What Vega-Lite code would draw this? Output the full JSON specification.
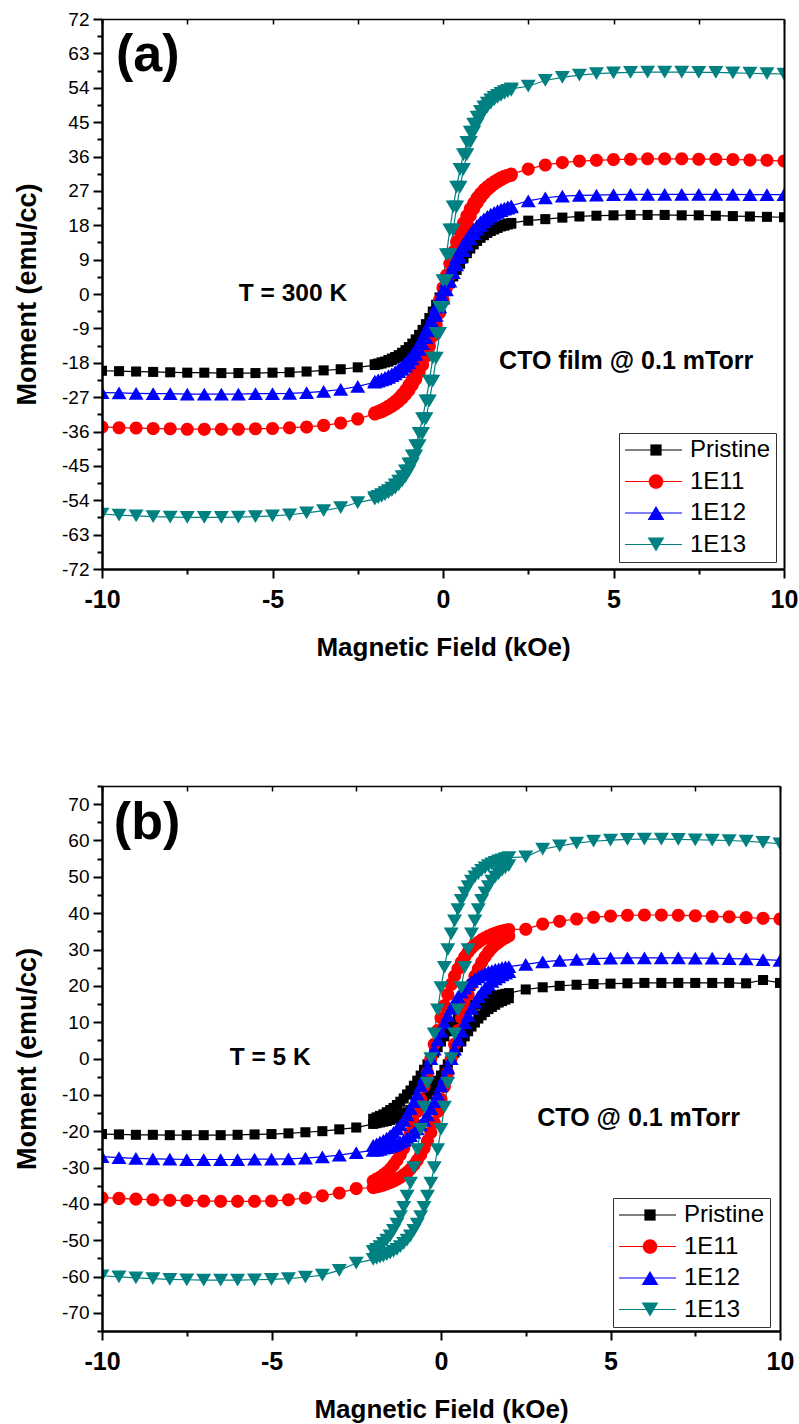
{
"$schema":"https://vega.github.io/schema/vega-lite/v6.json",
"background":"white",
"padding":{"left":13,"top":10,"right":5,"bottom":5},
"spacing":117,
"config":{"font":"Liberation Sans","view":{"stroke":null},"axis":{"grid":false,"domainColor":"#000000","tickColor":"#000000","labelColor":"#000000","titleColor":"#000000"},"legend":{"labelColor":"#000000","labelFont":"Liberation Sans"}},
"resolve":{"scale":{"color":"independent","stroke":"independent","shape":"independent"},"legend":{"color":"independent","stroke":"independent","shape":"independent"}},
"datasets":{
"a":[
{"s":"Pristine","b":"u","x":-10,"y":-20.1},{"s":"Pristine","b":"u","x":-9.5,"y":-20.2},{"s":"Pristine","b":"u","x":-9,"y":-20.3},{"s":"Pristine","b":"u","x":-8.5,"y":-20.4},{"s":"Pristine","b":"u","x":-8,"y":-20.5},{"s":"Pristine","b":"u","x":-7.5,"y":-20.6},{"s":"Pristine","b":"u","x":-7,"y":-20.6},{"s":"Pristine","b":"u","x":-6.5,"y":-20.7},{"s":"Pristine","b":"u","x":-6,"y":-20.7},{"s":"Pristine","b":"u","x":-5.5,"y":-20.7},{"s":"Pristine","b":"u","x":-5,"y":-20.6},{"s":"Pristine","b":"u","x":-4.5,"y":-20.5},{"s":"Pristine","b":"u","x":-4,"y":-20.3},{"s":"Pristine","b":"u","x":-3.5,"y":-20.0},{"s":"Pristine","b":"u","x":-3,"y":-19.7},{"s":"Pristine","b":"u","x":-2.5,"y":-19.2},
{"s":"Pristine","b":"u","x":-2,"y":-18.6},{"s":"Pristine","b":"u","x":-1.9,"y":-18.4},{"s":"Pristine","b":"u","x":-1.8,"y":-18.2},{"s":"Pristine","b":"u","x":-1.7,"y":-17.9},{"s":"Pristine","b":"u","x":-1.6,"y":-17.7},{"s":"Pristine","b":"u","x":-1.5,"y":-17.3},{"s":"Pristine","b":"u","x":-1.4,"y":-16.9},{"s":"Pristine","b":"u","x":-1.3,"y":-16.5},{"s":"Pristine","b":"u","x":-1.2,"y":-16.0},{"s":"Pristine","b":"u","x":-1.1,"y":-15.4},{"s":"Pristine","b":"u","x":-1,"y":-14.7},{"s":"Pristine","b":"u","x":-0.9,"y":-13.9},{"s":"Pristine","b":"u","x":-0.8,"y":-13.0},{"s":"Pristine","b":"u","x":-0.7,"y":-11.9},{"s":"Pristine","b":"u","x":-0.6,"y":-10.7},{"s":"Pristine","b":"u","x":-0.5,"y":-9.4},{"s":"Pristine","b":"u","x":-0.4,"y":-7.9},{"s":"Pristine","b":"u","x":-0.3,"y":-6.3},{"s":"Pristine","b":"u","x":-0.2,"y":-4.6},{"s":"Pristine","b":"u","x":-0.1,"y":-2.8},{"s":"Pristine","b":"u","x":0,"y":-0.9},{"s":"Pristine","b":"u","x":0.1,"y":0.9},{"s":"Pristine","b":"u","x":0.2,"y":2.8},{"s":"Pristine","b":"u","x":0.3,"y":4.6},{"s":"Pristine","b":"u","x":0.4,"y":6.3},{"s":"Pristine","b":"u","x":0.5,"y":7.9},{"s":"Pristine","b":"u","x":0.6,"y":9.4},{"s":"Pristine","b":"u","x":0.7,"y":10.7},{"s":"Pristine","b":"u","x":0.8,"y":11.9},{"s":"Pristine","b":"u","x":0.9,"y":13.0},{"s":"Pristine","b":"u","x":1,"y":13.9},{"s":"Pristine","b":"u","x":1.1,"y":14.7},{"s":"Pristine","b":"u","x":1.2,"y":15.4},{"s":"Pristine","b":"u","x":1.3,"y":16.0},{"s":"Pristine","b":"u","x":1.4,"y":16.5},{"s":"Pristine","b":"u","x":1.5,"y":16.9},{"s":"Pristine","b":"u","x":1.6,"y":17.3},{"s":"Pristine","b":"u","x":1.7,"y":17.7},{"s":"Pristine","b":"u","x":1.8,"y":17.9},{"s":"Pristine","b":"u","x":1.9,"y":18.2},{"s":"Pristine","b":"u","x":2,"y":18.4},
{"s":"Pristine","b":"d","x":-2,"y":-18.4},{"s":"Pristine","b":"d","x":-1.9,"y":-18.2},{"s":"Pristine","b":"d","x":-1.8,"y":-17.9},{"s":"Pristine","b":"d","x":-1.7,"y":-17.7},{"s":"Pristine","b":"d","x":-1.6,"y":-17.3},{"s":"Pristine","b":"d","x":-1.5,"y":-16.9},{"s":"Pristine","b":"d","x":-1.4,"y":-16.5},{"s":"Pristine","b":"d","x":-1.3,"y":-16.0},{"s":"Pristine","b":"d","x":-1.2,"y":-15.4},{"s":"Pristine","b":"d","x":-1.1,"y":-14.7},{"s":"Pristine","b":"d","x":-1,"y":-13.9},{"s":"Pristine","b":"d","x":-0.9,"y":-13.0},{"s":"Pristine","b":"d","x":-0.8,"y":-11.9},{"s":"Pristine","b":"d","x":-0.7,"y":-10.7},{"s":"Pristine","b":"d","x":-0.6,"y":-9.4},{"s":"Pristine","b":"d","x":-0.5,"y":-7.9},{"s":"Pristine","b":"d","x":-0.4,"y":-6.3},{"s":"Pristine","b":"d","x":-0.3,"y":-4.6},{"s":"Pristine","b":"d","x":-0.2,"y":-2.8},{"s":"Pristine","b":"d","x":-0.1,"y":-0.9},{"s":"Pristine","b":"d","x":0,"y":0.9},{"s":"Pristine","b":"d","x":0.1,"y":2.8},{"s":"Pristine","b":"d","x":0.2,"y":4.6},{"s":"Pristine","b":"d","x":0.3,"y":6.3},{"s":"Pristine","b":"d","x":0.4,"y":7.9},{"s":"Pristine","b":"d","x":0.5,"y":9.4},{"s":"Pristine","b":"d","x":0.6,"y":10.7},{"s":"Pristine","b":"d","x":0.7,"y":11.9},{"s":"Pristine","b":"d","x":0.8,"y":13.0},{"s":"Pristine","b":"d","x":0.9,"y":13.9},{"s":"Pristine","b":"d","x":1,"y":14.7},{"s":"Pristine","b":"d","x":1.1,"y":15.4},{"s":"Pristine","b":"d","x":1.2,"y":16.0},{"s":"Pristine","b":"d","x":1.3,"y":16.5},{"s":"Pristine","b":"d","x":1.4,"y":16.9},{"s":"Pristine","b":"d","x":1.5,"y":17.3},{"s":"Pristine","b":"d","x":1.6,"y":17.7},{"s":"Pristine","b":"d","x":1.7,"y":17.9},{"s":"Pristine","b":"d","x":1.8,"y":18.2},{"s":"Pristine","b":"d","x":1.9,"y":18.4},{"s":"Pristine","b":"d","x":2,"y":18.6},
{"s":"Pristine","b":"d","x":2.5,"y":19.2},{"s":"Pristine","b":"d","x":3,"y":19.6},{"s":"Pristine","b":"d","x":3.5,"y":20.0},{"s":"Pristine","b":"d","x":4,"y":20.3},{"s":"Pristine","b":"d","x":4.5,"y":20.5},{"s":"Pristine","b":"d","x":5,"y":20.6},{"s":"Pristine","b":"d","x":5.5,"y":20.7},{"s":"Pristine","b":"d","x":6,"y":20.7},{"s":"Pristine","b":"d","x":6.5,"y":20.7},{"s":"Pristine","b":"d","x":7,"y":20.6},{"s":"Pristine","b":"d","x":7.5,"y":20.6},{"s":"Pristine","b":"d","x":8,"y":20.5},{"s":"Pristine","b":"d","x":8.5,"y":20.4},{"s":"Pristine","b":"d","x":9,"y":20.3},{"s":"Pristine","b":"d","x":9.5,"y":20.2},{"s":"Pristine","b":"d","x":10,"y":20.1},
{"s":"1E11","b":"u","x":-10,"y":-34.8},{"s":"1E11","b":"u","x":-9.5,"y":-35.0},{"s":"1E11","b":"u","x":-9,"y":-35.1},{"s":"1E11","b":"u","x":-8.5,"y":-35.2},{"s":"1E11","b":"u","x":-8,"y":-35.3},{"s":"1E11","b":"u","x":-7.5,"y":-35.4},{"s":"1E11","b":"u","x":-7,"y":-35.4},{"s":"1E11","b":"u","x":-6.5,"y":-35.4},{"s":"1E11","b":"u","x":-6,"y":-35.4},{"s":"1E11","b":"u","x":-5.5,"y":-35.3},{"s":"1E11","b":"u","x":-5,"y":-35.2},{"s":"1E11","b":"u","x":-4.5,"y":-35.0},{"s":"1E11","b":"u","x":-4,"y":-34.8},{"s":"1E11","b":"u","x":-3.5,"y":-34.4},{"s":"1E11","b":"u","x":-3,"y":-33.8},{"s":"1E11","b":"u","x":-2.5,"y":-32.7},
{"s":"1E11","b":"u","x":-2,"y":-31.4},{"s":"1E11","b":"u","x":-1.9,"y":-31.1},{"s":"1E11","b":"u","x":-1.8,"y":-30.8},{"s":"1E11","b":"u","x":-1.7,"y":-30.4},{"s":"1E11","b":"u","x":-1.6,"y":-29.9},{"s":"1E11","b":"u","x":-1.5,"y":-29.4},{"s":"1E11","b":"u","x":-1.4,"y":-28.8},{"s":"1E11","b":"u","x":-1.3,"y":-28.1},{"s":"1E11","b":"u","x":-1.2,"y":-27.3},{"s":"1E11","b":"u","x":-1.1,"y":-26.3},{"s":"1E11","b":"u","x":-1,"y":-25.2},{"s":"1E11","b":"u","x":-0.9,"y":-23.8},{"s":"1E11","b":"u","x":-0.8,"y":-22.3},{"s":"1E11","b":"u","x":-0.7,"y":-20.5},{"s":"1E11","b":"u","x":-0.6,"y":-18.6},{"s":"1E11","b":"u","x":-0.5,"y":-16.3},{"s":"1E11","b":"u","x":-0.4,"y":-13.7},{"s":"1E11","b":"u","x":-0.3,"y":-11.0},{"s":"1E11","b":"u","x":-0.2,"y":-8.0},{"s":"1E11","b":"u","x":-0.1,"y":-4.9},{"s":"1E11","b":"u","x":0,"y":-1.6},{"s":"1E11","b":"u","x":0.1,"y":1.6},{"s":"1E11","b":"u","x":0.2,"y":4.9},{"s":"1E11","b":"u","x":0.3,"y":8.0},{"s":"1E11","b":"u","x":0.4,"y":11.0},{"s":"1E11","b":"u","x":0.5,"y":13.7},{"s":"1E11","b":"u","x":0.6,"y":16.3},{"s":"1E11","b":"u","x":0.7,"y":18.6},{"s":"1E11","b":"u","x":0.8,"y":20.5},{"s":"1E11","b":"u","x":0.9,"y":22.3},{"s":"1E11","b":"u","x":1,"y":23.8},{"s":"1E11","b":"u","x":1.1,"y":25.2},{"s":"1E11","b":"u","x":1.2,"y":26.3},{"s":"1E11","b":"u","x":1.3,"y":27.3},{"s":"1E11","b":"u","x":1.4,"y":28.1},{"s":"1E11","b":"u","x":1.5,"y":28.8},{"s":"1E11","b":"u","x":1.6,"y":29.4},{"s":"1E11","b":"u","x":1.7,"y":29.9},{"s":"1E11","b":"u","x":1.8,"y":30.4},{"s":"1E11","b":"u","x":1.9,"y":30.8},{"s":"1E11","b":"u","x":2,"y":31.1},
{"s":"1E11","b":"d","x":-2,"y":-31.1},{"s":"1E11","b":"d","x":-1.9,"y":-30.8},{"s":"1E11","b":"d","x":-1.8,"y":-30.4},{"s":"1E11","b":"d","x":-1.7,"y":-29.9},{"s":"1E11","b":"d","x":-1.6,"y":-29.4},{"s":"1E11","b":"d","x":-1.5,"y":-28.8},{"s":"1E11","b":"d","x":-1.4,"y":-28.1},{"s":"1E11","b":"d","x":-1.3,"y":-27.3},{"s":"1E11","b":"d","x":-1.2,"y":-26.3},{"s":"1E11","b":"d","x":-1.1,"y":-25.2},{"s":"1E11","b":"d","x":-1,"y":-23.8},{"s":"1E11","b":"d","x":-0.9,"y":-22.3},{"s":"1E11","b":"d","x":-0.8,"y":-20.5},{"s":"1E11","b":"d","x":-0.7,"y":-18.6},{"s":"1E11","b":"d","x":-0.6,"y":-16.3},{"s":"1E11","b":"d","x":-0.5,"y":-13.7},{"s":"1E11","b":"d","x":-0.4,"y":-11.0},{"s":"1E11","b":"d","x":-0.3,"y":-8.0},{"s":"1E11","b":"d","x":-0.2,"y":-4.9},{"s":"1E11","b":"d","x":-0.1,"y":-1.6},{"s":"1E11","b":"d","x":0,"y":1.6},{"s":"1E11","b":"d","x":0.1,"y":4.9},{"s":"1E11","b":"d","x":0.2,"y":8.0},{"s":"1E11","b":"d","x":0.3,"y":11.0},{"s":"1E11","b":"d","x":0.4,"y":13.7},{"s":"1E11","b":"d","x":0.5,"y":16.3},{"s":"1E11","b":"d","x":0.6,"y":18.6},{"s":"1E11","b":"d","x":0.7,"y":20.5},{"s":"1E11","b":"d","x":0.8,"y":22.3},{"s":"1E11","b":"d","x":0.9,"y":23.8},{"s":"1E11","b":"d","x":1,"y":25.2},{"s":"1E11","b":"d","x":1.1,"y":26.3},{"s":"1E11","b":"d","x":1.2,"y":27.3},{"s":"1E11","b":"d","x":1.3,"y":28.1},{"s":"1E11","b":"d","x":1.4,"y":28.8},{"s":"1E11","b":"d","x":1.5,"y":29.4},{"s":"1E11","b":"d","x":1.6,"y":29.9},{"s":"1E11","b":"d","x":1.7,"y":30.4},{"s":"1E11","b":"d","x":1.8,"y":30.8},{"s":"1E11","b":"d","x":1.9,"y":31.1},{"s":"1E11","b":"d","x":2,"y":31.4},
{"s":"1E11","b":"d","x":2.5,"y":32.7},{"s":"1E11","b":"d","x":3,"y":33.8},{"s":"1E11","b":"d","x":3.5,"y":34.4},{"s":"1E11","b":"d","x":4,"y":34.8},{"s":"1E11","b":"d","x":4.5,"y":35.0},{"s":"1E11","b":"d","x":5,"y":35.2},{"s":"1E11","b":"d","x":5.5,"y":35.3},{"s":"1E11","b":"d","x":6,"y":35.4},{"s":"1E11","b":"d","x":6.5,"y":35.4},{"s":"1E11","b":"d","x":7,"y":35.4},{"s":"1E11","b":"d","x":7.5,"y":35.3},{"s":"1E11","b":"d","x":8,"y":35.3},{"s":"1E11","b":"d","x":8.5,"y":35.2},{"s":"1E11","b":"d","x":9,"y":35.1},{"s":"1E11","b":"d","x":9.5,"y":35.0},{"s":"1E11","b":"d","x":10,"y":34.8},
{"s":"1E12","b":"u","x":-10,"y":-25.8},{"s":"1E12","b":"u","x":-9.5,"y":-25.9},{"s":"1E12","b":"u","x":-9,"y":-26.0},{"s":"1E12","b":"u","x":-8.5,"y":-26.1},{"s":"1E12","b":"u","x":-8,"y":-26.1},{"s":"1E12","b":"u","x":-7.5,"y":-26.2},{"s":"1E12","b":"u","x":-7,"y":-26.2},{"s":"1E12","b":"u","x":-6.5,"y":-26.2},{"s":"1E12","b":"u","x":-6,"y":-26.2},{"s":"1E12","b":"u","x":-5.5,"y":-26.1},{"s":"1E12","b":"u","x":-5,"y":-26.1},{"s":"1E12","b":"u","x":-4.5,"y":-26.0},{"s":"1E12","b":"u","x":-4,"y":-25.8},{"s":"1E12","b":"u","x":-3.5,"y":-25.5},{"s":"1E12","b":"u","x":-3,"y":-25.0},{"s":"1E12","b":"u","x":-2.5,"y":-24.2},
{"s":"1E12","b":"u","x":-2,"y":-23.1},{"s":"1E12","b":"u","x":-1.9,"y":-22.8},{"s":"1E12","b":"u","x":-1.8,"y":-22.5},{"s":"1E12","b":"u","x":-1.7,"y":-22.2},{"s":"1E12","b":"u","x":-1.6,"y":-21.8},{"s":"1E12","b":"u","x":-1.5,"y":-21.4},{"s":"1E12","b":"u","x":-1.4,"y":-20.9},{"s":"1E12","b":"u","x":-1.3,"y":-20.3},{"s":"1E12","b":"u","x":-1.2,"y":-19.7},{"s":"1E12","b":"u","x":-1.1,"y":-18.9},{"s":"1E12","b":"u","x":-1,"y":-18.0},{"s":"1E12","b":"u","x":-0.9,"y":-17.0},{"s":"1E12","b":"u","x":-0.8,"y":-15.8},{"s":"1E12","b":"u","x":-0.7,"y":-14.5},{"s":"1E12","b":"u","x":-0.6,"y":-13.0},{"s":"1E12","b":"u","x":-0.5,"y":-11.4},{"s":"1E12","b":"u","x":-0.4,"y":-9.6},{"s":"1E12","b":"u","x":-0.3,"y":-7.6},{"s":"1E12","b":"u","x":-0.2,"y":-5.6},{"s":"1E12","b":"u","x":-0.1,"y":-3.4},{"s":"1E12","b":"u","x":0,"y":-1.1},{"s":"1E12","b":"u","x":0.1,"y":1.1},{"s":"1E12","b":"u","x":0.2,"y":3.4},{"s":"1E12","b":"u","x":0.3,"y":5.6},{"s":"1E12","b":"u","x":0.4,"y":7.6},{"s":"1E12","b":"u","x":0.5,"y":9.6},{"s":"1E12","b":"u","x":0.6,"y":11.4},{"s":"1E12","b":"u","x":0.7,"y":13.0},{"s":"1E12","b":"u","x":0.8,"y":14.5},{"s":"1E12","b":"u","x":0.9,"y":15.8},{"s":"1E12","b":"u","x":1,"y":17.0},{"s":"1E12","b":"u","x":1.1,"y":18.0},{"s":"1E12","b":"u","x":1.2,"y":18.9},{"s":"1E12","b":"u","x":1.3,"y":19.7},{"s":"1E12","b":"u","x":1.4,"y":20.3},{"s":"1E12","b":"u","x":1.5,"y":20.9},{"s":"1E12","b":"u","x":1.6,"y":21.4},{"s":"1E12","b":"u","x":1.7,"y":21.8},{"s":"1E12","b":"u","x":1.8,"y":22.2},{"s":"1E12","b":"u","x":1.9,"y":22.5},{"s":"1E12","b":"u","x":2,"y":22.8},
{"s":"1E12","b":"d","x":-2,"y":-22.8},{"s":"1E12","b":"d","x":-1.9,"y":-22.5},{"s":"1E12","b":"d","x":-1.8,"y":-22.2},{"s":"1E12","b":"d","x":-1.7,"y":-21.8},{"s":"1E12","b":"d","x":-1.6,"y":-21.4},{"s":"1E12","b":"d","x":-1.5,"y":-20.9},{"s":"1E12","b":"d","x":-1.4,"y":-20.3},{"s":"1E12","b":"d","x":-1.3,"y":-19.7},{"s":"1E12","b":"d","x":-1.2,"y":-18.9},{"s":"1E12","b":"d","x":-1.1,"y":-18.0},{"s":"1E12","b":"d","x":-1,"y":-17.0},{"s":"1E12","b":"d","x":-0.9,"y":-15.8},{"s":"1E12","b":"d","x":-0.8,"y":-14.5},{"s":"1E12","b":"d","x":-0.7,"y":-13.0},{"s":"1E12","b":"d","x":-0.6,"y":-11.4},{"s":"1E12","b":"d","x":-0.5,"y":-9.6},{"s":"1E12","b":"d","x":-0.4,"y":-7.6},{"s":"1E12","b":"d","x":-0.3,"y":-5.6},{"s":"1E12","b":"d","x":-0.2,"y":-3.4},{"s":"1E12","b":"d","x":-0.1,"y":-1.1},{"s":"1E12","b":"d","x":0,"y":1.1},{"s":"1E12","b":"d","x":0.1,"y":3.4},{"s":"1E12","b":"d","x":0.2,"y":5.6},{"s":"1E12","b":"d","x":0.3,"y":7.6},{"s":"1E12","b":"d","x":0.4,"y":9.6},{"s":"1E12","b":"d","x":0.5,"y":11.4},{"s":"1E12","b":"d","x":0.6,"y":13.0},{"s":"1E12","b":"d","x":0.7,"y":14.5},{"s":"1E12","b":"d","x":0.8,"y":15.8},{"s":"1E12","b":"d","x":0.9,"y":17.0},{"s":"1E12","b":"d","x":1,"y":18.0},{"s":"1E12","b":"d","x":1.1,"y":18.9},{"s":"1E12","b":"d","x":1.2,"y":19.7},{"s":"1E12","b":"d","x":1.3,"y":20.3},{"s":"1E12","b":"d","x":1.4,"y":20.9},{"s":"1E12","b":"d","x":1.5,"y":21.4},{"s":"1E12","b":"d","x":1.6,"y":21.8},{"s":"1E12","b":"d","x":1.7,"y":22.2},{"s":"1E12","b":"d","x":1.8,"y":22.5},{"s":"1E12","b":"d","x":1.9,"y":22.8},{"s":"1E12","b":"d","x":2,"y":23.1},
{"s":"1E12","b":"d","x":2.5,"y":24.4},{"s":"1E12","b":"d","x":3,"y":25.2},{"s":"1E12","b":"d","x":3.5,"y":25.6},{"s":"1E12","b":"d","x":4,"y":25.8},{"s":"1E12","b":"d","x":4.5,"y":25.9},{"s":"1E12","b":"d","x":5,"y":26.0},{"s":"1E12","b":"d","x":5.5,"y":26.1},{"s":"1E12","b":"d","x":6,"y":26.1},{"s":"1E12","b":"d","x":6.5,"y":26.1},{"s":"1E12","b":"d","x":7,"y":26.1},{"s":"1E12","b":"d","x":7.5,"y":26.1},{"s":"1E12","b":"d","x":8,"y":26.1},{"s":"1E12","b":"d","x":8.5,"y":26.1},{"s":"1E12","b":"d","x":9,"y":26.0},{"s":"1E12","b":"d","x":9.5,"y":26.0},{"s":"1E12","b":"d","x":10,"y":26.0},
{"s":"1E13","b":"u","x":-10,"y":-57.6},{"s":"1E13","b":"u","x":-9.5,"y":-57.9},{"s":"1E13","b":"u","x":-9,"y":-58.1},{"s":"1E13","b":"u","x":-8.5,"y":-58.3},{"s":"1E13","b":"u","x":-8,"y":-58.4},{"s":"1E13","b":"u","x":-7.5,"y":-58.5},{"s":"1E13","b":"u","x":-7,"y":-58.5},{"s":"1E13","b":"u","x":-6.5,"y":-58.5},{"s":"1E13","b":"u","x":-6,"y":-58.4},{"s":"1E13","b":"u","x":-5.5,"y":-58.3},{"s":"1E13","b":"u","x":-5,"y":-58.1},{"s":"1E13","b":"u","x":-4.5,"y":-57.8},{"s":"1E13","b":"u","x":-4,"y":-57.3},{"s":"1E13","b":"u","x":-3.5,"y":-56.7},{"s":"1E13","b":"u","x":-3,"y":-55.9},{"s":"1E13","b":"u","x":-2.5,"y":-54.6},
{"s":"1E13","b":"u","x":-2,"y":-53.7},{"s":"1E13","b":"u","x":-1.9,"y":-53.3},{"s":"1E13","b":"u","x":-1.8,"y":-53.0},{"s":"1E13","b":"u","x":-1.7,"y":-52.5},{"s":"1E13","b":"u","x":-1.6,"y":-52.0},{"s":"1E13","b":"u","x":-1.5,"y":-51.5},{"s":"1E13","b":"u","x":-1.4,"y":-50.8},{"s":"1E13","b":"u","x":-1.3,"y":-50.0},{"s":"1E13","b":"u","x":-1.2,"y":-49.0},{"s":"1E13","b":"u","x":-1.1,"y":-47.8},{"s":"1E13","b":"u","x":-1,"y":-46.3},{"s":"1E13","b":"u","x":-0.9,"y":-44.5},{"s":"1E13","b":"u","x":-0.8,"y":-42.4},{"s":"1E13","b":"u","x":-0.7,"y":-39.7},{"s":"1E13","b":"u","x":-0.6,"y":-36.5},{"s":"1E13","b":"u","x":-0.5,"y":-32.6},{"s":"1E13","b":"u","x":-0.4,"y":-28.0},{"s":"1E13","b":"u","x":-0.3,"y":-22.8},{"s":"1E13","b":"u","x":-0.2,"y":-16.8},{"s":"1E13","b":"u","x":-0.1,"y":-10.3},{"s":"1E13","b":"u","x":0,"y":-3.5},{"s":"1E13","b":"u","x":0.1,"y":3.5},{"s":"1E13","b":"u","x":0.2,"y":10.3},{"s":"1E13","b":"u","x":0.3,"y":16.8},{"s":"1E13","b":"u","x":0.4,"y":22.8},{"s":"1E13","b":"u","x":0.5,"y":28.0},{"s":"1E13","b":"u","x":0.6,"y":32.6},{"s":"1E13","b":"u","x":0.7,"y":36.5},{"s":"1E13","b":"u","x":0.8,"y":39.7},{"s":"1E13","b":"u","x":0.9,"y":42.4},{"s":"1E13","b":"u","x":1,"y":44.5},{"s":"1E13","b":"u","x":1.1,"y":46.3},{"s":"1E13","b":"u","x":1.2,"y":47.8},{"s":"1E13","b":"u","x":1.3,"y":49.0},{"s":"1E13","b":"u","x":1.4,"y":50.0},{"s":"1E13","b":"u","x":1.5,"y":50.8},{"s":"1E13","b":"u","x":1.6,"y":51.5},{"s":"1E13","b":"u","x":1.7,"y":52.0},{"s":"1E13","b":"u","x":1.8,"y":52.5},{"s":"1E13","b":"u","x":1.9,"y":53.0},{"s":"1E13","b":"u","x":2,"y":53.3},
{"s":"1E13","b":"d","x":-2,"y":-53.3},{"s":"1E13","b":"d","x":-1.9,"y":-53.0},{"s":"1E13","b":"d","x":-1.8,"y":-52.5},{"s":"1E13","b":"d","x":-1.7,"y":-52.0},{"s":"1E13","b":"d","x":-1.6,"y":-51.5},{"s":"1E13","b":"d","x":-1.5,"y":-50.8},{"s":"1E13","b":"d","x":-1.4,"y":-50.0},{"s":"1E13","b":"d","x":-1.3,"y":-49.0},{"s":"1E13","b":"d","x":-1.2,"y":-47.8},{"s":"1E13","b":"d","x":-1.1,"y":-46.3},{"s":"1E13","b":"d","x":-1,"y":-44.5},{"s":"1E13","b":"d","x":-0.9,"y":-42.4},{"s":"1E13","b":"d","x":-0.8,"y":-39.7},{"s":"1E13","b":"d","x":-0.7,"y":-36.5},{"s":"1E13","b":"d","x":-0.6,"y":-32.6},{"s":"1E13","b":"d","x":-0.5,"y":-28.0},{"s":"1E13","b":"d","x":-0.4,"y":-22.8},{"s":"1E13","b":"d","x":-0.3,"y":-16.8},{"s":"1E13","b":"d","x":-0.2,"y":-10.3},{"s":"1E13","b":"d","x":-0.1,"y":-3.5},{"s":"1E13","b":"d","x":0,"y":3.5},{"s":"1E13","b":"d","x":0.1,"y":10.3},{"s":"1E13","b":"d","x":0.2,"y":16.8},{"s":"1E13","b":"d","x":0.3,"y":22.8},{"s":"1E13","b":"d","x":0.4,"y":28.0},{"s":"1E13","b":"d","x":0.5,"y":32.6},{"s":"1E13","b":"d","x":0.6,"y":36.5},{"s":"1E13","b":"d","x":0.7,"y":39.7},{"s":"1E13","b":"d","x":0.8,"y":42.4},{"s":"1E13","b":"d","x":0.9,"y":44.5},{"s":"1E13","b":"d","x":1,"y":46.3},{"s":"1E13","b":"d","x":1.1,"y":47.8},{"s":"1E13","b":"d","x":1.2,"y":49.0},{"s":"1E13","b":"d","x":1.3,"y":50.0},{"s":"1E13","b":"d","x":1.4,"y":50.8},{"s":"1E13","b":"d","x":1.5,"y":51.5},{"s":"1E13","b":"d","x":1.6,"y":52.0},{"s":"1E13","b":"d","x":1.7,"y":52.5},{"s":"1E13","b":"d","x":1.8,"y":53.0},{"s":"1E13","b":"d","x":1.9,"y":53.3},{"s":"1E13","b":"d","x":2,"y":53.7},
{"s":"1E13","b":"d","x":2.5,"y":54.4},{"s":"1E13","b":"d","x":3,"y":55.9},{"s":"1E13","b":"d","x":3.5,"y":56.7},{"s":"1E13","b":"d","x":4,"y":57.3},{"s":"1E13","b":"d","x":4.5,"y":57.7},{"s":"1E13","b":"d","x":5,"y":57.9},{"s":"1E13","b":"d","x":5.5,"y":58.0},{"s":"1E13","b":"d","x":6,"y":58.1},{"s":"1E13","b":"d","x":6.5,"y":58.1},{"s":"1E13","b":"d","x":7,"y":58.1},{"s":"1E13","b":"d","x":7.5,"y":58.0},{"s":"1E13","b":"d","x":8,"y":58.0},{"s":"1E13","b":"d","x":8.5,"y":57.9},{"s":"1E13","b":"d","x":9,"y":57.8},{"s":"1E13","b":"d","x":9.5,"y":57.7},{"s":"1E13","b":"d","x":10,"y":57.6}
],
"b":[
{"s":"Pristine","b":"u","x":-10,"y":-20.8},{"s":"Pristine","b":"u","x":-9.5,"y":-20.9},{"s":"Pristine","b":"u","x":-9,"y":-21.0},{"s":"Pristine","b":"u","x":-8.5,"y":-21.0},{"s":"Pristine","b":"u","x":-8,"y":-21.1},{"s":"Pristine","b":"u","x":-7.5,"y":-21.1},{"s":"Pristine","b":"u","x":-7,"y":-21.1},{"s":"Pristine","b":"u","x":-6.5,"y":-21.1},{"s":"Pristine","b":"u","x":-6,"y":-21.0},{"s":"Pristine","b":"u","x":-5.5,"y":-20.9},{"s":"Pristine","b":"u","x":-5,"y":-20.8},{"s":"Pristine","b":"u","x":-4.5,"y":-20.6},{"s":"Pristine","b":"u","x":-4,"y":-20.3},{"s":"Pristine","b":"u","x":-3.5,"y":-20.0},{"s":"Pristine","b":"u","x":-3,"y":-19.5},{"s":"Pristine","b":"u","x":-2.5,"y":-19.0},
{"s":"Pristine","b":"u","x":-2,"y":-18.0},{"s":"Pristine","b":"u","x":-1.9,"y":-17.8},{"s":"Pristine","b":"u","x":-1.8,"y":-17.6},{"s":"Pristine","b":"u","x":-1.7,"y":-17.4},{"s":"Pristine","b":"u","x":-1.6,"y":-17.2},{"s":"Pristine","b":"u","x":-1.5,"y":-16.9},{"s":"Pristine","b":"u","x":-1.4,"y":-16.6},{"s":"Pristine","b":"u","x":-1.3,"y":-16.2},{"s":"Pristine","b":"u","x":-1.2,"y":-15.8},{"s":"Pristine","b":"u","x":-1.1,"y":-15.4},{"s":"Pristine","b":"u","x":-1,"y":-14.8},{"s":"Pristine","b":"u","x":-0.9,"y":-14.2},{"s":"Pristine","b":"u","x":-0.8,"y":-13.6},{"s":"Pristine","b":"u","x":-0.7,"y":-12.8},{"s":"Pristine","b":"u","x":-0.6,"y":-11.9},{"s":"Pristine","b":"u","x":-0.5,"y":-11.0},{"s":"Pristine","b":"u","x":-0.4,"y":-9.9},{"s":"Pristine","b":"u","x":-0.3,"y":-8.8},{"s":"Pristine","b":"u","x":-0.2,"y":-7.5},{"s":"Pristine","b":"u","x":-0.1,"y":-6.1},{"s":"Pristine","b":"u","x":0,"y":-4.7},{"s":"Pristine","b":"u","x":0.1,"y":-3.1},{"s":"Pristine","b":"u","x":0.2,"y":-1.6},{"s":"Pristine","b":"u","x":0.3,"y":0},{"s":"Pristine","b":"u","x":0.4,"y":1.6},{"s":"Pristine","b":"u","x":0.5,"y":3.1},{"s":"Pristine","b":"u","x":0.6,"y":4.7},{"s":"Pristine","b":"u","x":0.7,"y":6.1},{"s":"Pristine","b":"u","x":0.8,"y":7.5},{"s":"Pristine","b":"u","x":0.9,"y":8.8},{"s":"Pristine","b":"u","x":1,"y":9.9},{"s":"Pristine","b":"u","x":1.1,"y":11.0},{"s":"Pristine","b":"u","x":1.2,"y":11.9},{"s":"Pristine","b":"u","x":1.3,"y":12.8},{"s":"Pristine","b":"u","x":1.4,"y":13.6},{"s":"Pristine","b":"u","x":1.5,"y":14.2},{"s":"Pristine","b":"u","x":1.6,"y":14.8},{"s":"Pristine","b":"u","x":1.7,"y":15.4},{"s":"Pristine","b":"u","x":1.8,"y":15.8},{"s":"Pristine","b":"u","x":1.9,"y":16.2},{"s":"Pristine","b":"u","x":2,"y":16.6},
{"s":"Pristine","b":"d","x":-2,"y":-16.6},{"s":"Pristine","b":"d","x":-1.9,"y":-16.2},{"s":"Pristine","b":"d","x":-1.8,"y":-15.8},{"s":"Pristine","b":"d","x":-1.7,"y":-15.4},{"s":"Pristine","b":"d","x":-1.6,"y":-14.8},{"s":"Pristine","b":"d","x":-1.5,"y":-14.2},{"s":"Pristine","b":"d","x":-1.4,"y":-13.6},{"s":"Pristine","b":"d","x":-1.3,"y":-12.8},{"s":"Pristine","b":"d","x":-1.2,"y":-11.9},{"s":"Pristine","b":"d","x":-1.1,"y":-11.0},{"s":"Pristine","b":"d","x":-1,"y":-9.9},{"s":"Pristine","b":"d","x":-0.9,"y":-8.8},{"s":"Pristine","b":"d","x":-0.8,"y":-7.5},{"s":"Pristine","b":"d","x":-0.7,"y":-6.1},{"s":"Pristine","b":"d","x":-0.6,"y":-4.7},{"s":"Pristine","b":"d","x":-0.5,"y":-3.1},{"s":"Pristine","b":"d","x":-0.4,"y":-1.6},{"s":"Pristine","b":"d","x":-0.3,"y":0},{"s":"Pristine","b":"d","x":-0.2,"y":1.6},{"s":"Pristine","b":"d","x":-0.1,"y":3.1},{"s":"Pristine","b":"d","x":0,"y":4.7},{"s":"Pristine","b":"d","x":0.1,"y":6.1},{"s":"Pristine","b":"d","x":0.2,"y":7.5},{"s":"Pristine","b":"d","x":0.3,"y":8.8},{"s":"Pristine","b":"d","x":0.4,"y":9.9},{"s":"Pristine","b":"d","x":0.5,"y":11.0},{"s":"Pristine","b":"d","x":0.6,"y":11.9},{"s":"Pristine","b":"d","x":0.7,"y":12.8},{"s":"Pristine","b":"d","x":0.8,"y":13.6},{"s":"Pristine","b":"d","x":0.9,"y":14.2},{"s":"Pristine","b":"d","x":1,"y":14.8},{"s":"Pristine","b":"d","x":1.1,"y":15.4},{"s":"Pristine","b":"d","x":1.2,"y":15.8},{"s":"Pristine","b":"d","x":1.3,"y":16.2},{"s":"Pristine","b":"d","x":1.4,"y":16.6},{"s":"Pristine","b":"d","x":1.5,"y":16.9},{"s":"Pristine","b":"d","x":1.6,"y":17.2},{"s":"Pristine","b":"d","x":1.7,"y":17.4},{"s":"Pristine","b":"d","x":1.8,"y":17.6},{"s":"Pristine","b":"d","x":1.9,"y":17.8},{"s":"Pristine","b":"d","x":2,"y":18.0},
{"s":"Pristine","b":"d","x":2.5,"y":19.0},{"s":"Pristine","b":"d","x":3,"y":19.6},{"s":"Pristine","b":"d","x":3.5,"y":20.0},{"s":"Pristine","b":"d","x":4,"y":20.3},{"s":"Pristine","b":"d","x":4.5,"y":20.5},{"s":"Pristine","b":"d","x":5,"y":20.6},{"s":"Pristine","b":"d","x":5.5,"y":20.7},{"s":"Pristine","b":"d","x":6,"y":20.8},{"s":"Pristine","b":"d","x":6.5,"y":20.8},{"s":"Pristine","b":"d","x":7,"y":20.8},{"s":"Pristine","b":"d","x":7.5,"y":20.8},{"s":"Pristine","b":"d","x":8,"y":20.8},{"s":"Pristine","b":"d","x":8.5,"y":20.8},{"s":"Pristine","b":"d","x":9,"y":20.7},{"s":"Pristine","b":"d","x":9.5,"y":21.6},{"s":"Pristine","b":"d","x":10,"y":20.8},
{"s":"1E11","b":"u","x":-10,"y":-38.3},{"s":"1E11","b":"u","x":-9.5,"y":-38.5},{"s":"1E11","b":"u","x":-9,"y":-38.7},{"s":"1E11","b":"u","x":-8.5,"y":-38.9},{"s":"1E11","b":"u","x":-8,"y":-39.0},{"s":"1E11","b":"u","x":-7.5,"y":-39.1},{"s":"1E11","b":"u","x":-7,"y":-39.2},{"s":"1E11","b":"u","x":-6.5,"y":-39.3},{"s":"1E11","b":"u","x":-6,"y":-39.3},{"s":"1E11","b":"u","x":-5.5,"y":-39.3},{"s":"1E11","b":"u","x":-5,"y":-39.2},{"s":"1E11","b":"u","x":-4.5,"y":-38.9},{"s":"1E11","b":"u","x":-4,"y":-38.4},{"s":"1E11","b":"u","x":-3.5,"y":-37.8},{"s":"1E11","b":"u","x":-3,"y":-37.0},{"s":"1E11","b":"u","x":-2.5,"y":-35.8},
{"s":"1E11","b":"u","x":-2,"y":-35.5},{"s":"1E11","b":"u","x":-1.9,"y":-35.3},{"s":"1E11","b":"u","x":-1.8,"y":-35.1},{"s":"1E11","b":"u","x":-1.7,"y":-34.8},{"s":"1E11","b":"u","x":-1.6,"y":-34.5},{"s":"1E11","b":"u","x":-1.5,"y":-34.1},{"s":"1E11","b":"u","x":-1.4,"y":-33.7},{"s":"1E11","b":"u","x":-1.3,"y":-33.2},{"s":"1E11","b":"u","x":-1.2,"y":-32.7},{"s":"1E11","b":"u","x":-1.1,"y":-32.0},{"s":"1E11","b":"u","x":-1,"y":-31.3},{"s":"1E11","b":"u","x":-0.9,"y":-30.4},{"s":"1E11","b":"u","x":-0.8,"y":-29.3},{"s":"1E11","b":"u","x":-0.7,"y":-28.0},{"s":"1E11","b":"u","x":-0.6,"y":-26.5},{"s":"1E11","b":"u","x":-0.5,"y":-24.7},{"s":"1E11","b":"u","x":-0.4,"y":-22.7},{"s":"1E11","b":"u","x":-0.3,"y":-20.4},{"s":"1E11","b":"u","x":-0.2,"y":-17.6},{"s":"1E11","b":"u","x":-0.1,"y":-14.6},{"s":"1E11","b":"u","x":0,"y":-11.2},{"s":"1E11","b":"u","x":0.1,"y":-7.7},{"s":"1E11","b":"u","x":0.2,"y":-3.9},{"s":"1E11","b":"u","x":0.3,"y":0},{"s":"1E11","b":"u","x":0.4,"y":3.9},{"s":"1E11","b":"u","x":0.5,"y":7.7},{"s":"1E11","b":"u","x":0.6,"y":11.2},{"s":"1E11","b":"u","x":0.7,"y":14.6},{"s":"1E11","b":"u","x":0.8,"y":17.6},{"s":"1E11","b":"u","x":0.9,"y":20.4},{"s":"1E11","b":"u","x":1,"y":22.7},{"s":"1E11","b":"u","x":1.1,"y":24.7},{"s":"1E11","b":"u","x":1.2,"y":26.5},{"s":"1E11","b":"u","x":1.3,"y":28.0},{"s":"1E11","b":"u","x":1.4,"y":29.3},{"s":"1E11","b":"u","x":1.5,"y":30.4},{"s":"1E11","b":"u","x":1.6,"y":31.3},{"s":"1E11","b":"u","x":1.7,"y":32.0},{"s":"1E11","b":"u","x":1.8,"y":32.7},{"s":"1E11","b":"u","x":1.9,"y":33.2},{"s":"1E11","b":"u","x":2,"y":33.7},
{"s":"1E11","b":"d","x":-2,"y":-33.7},{"s":"1E11","b":"d","x":-1.9,"y":-33.2},{"s":"1E11","b":"d","x":-1.8,"y":-32.7},{"s":"1E11","b":"d","x":-1.7,"y":-32.0},{"s":"1E11","b":"d","x":-1.6,"y":-31.3},{"s":"1E11","b":"d","x":-1.5,"y":-30.4},{"s":"1E11","b":"d","x":-1.4,"y":-29.3},{"s":"1E11","b":"d","x":-1.3,"y":-28.0},{"s":"1E11","b":"d","x":-1.2,"y":-26.5},{"s":"1E11","b":"d","x":-1.1,"y":-24.7},{"s":"1E11","b":"d","x":-1,"y":-22.7},{"s":"1E11","b":"d","x":-0.9,"y":-20.4},{"s":"1E11","b":"d","x":-0.8,"y":-17.6},{"s":"1E11","b":"d","x":-0.7,"y":-14.6},{"s":"1E11","b":"d","x":-0.6,"y":-11.2},{"s":"1E11","b":"d","x":-0.5,"y":-7.7},{"s":"1E11","b":"d","x":-0.4,"y":-3.9},{"s":"1E11","b":"d","x":-0.3,"y":0},{"s":"1E11","b":"d","x":-0.2,"y":3.9},{"s":"1E11","b":"d","x":-0.1,"y":7.7},{"s":"1E11","b":"d","x":0,"y":11.2},{"s":"1E11","b":"d","x":0.1,"y":14.6},{"s":"1E11","b":"d","x":0.2,"y":17.6},{"s":"1E11","b":"d","x":0.3,"y":20.4},{"s":"1E11","b":"d","x":0.4,"y":22.7},{"s":"1E11","b":"d","x":0.5,"y":24.7},{"s":"1E11","b":"d","x":0.6,"y":26.5},{"s":"1E11","b":"d","x":0.7,"y":28.0},{"s":"1E11","b":"d","x":0.8,"y":29.3},{"s":"1E11","b":"d","x":0.9,"y":30.4},{"s":"1E11","b":"d","x":1,"y":31.3},{"s":"1E11","b":"d","x":1.1,"y":32.0},{"s":"1E11","b":"d","x":1.2,"y":32.7},{"s":"1E11","b":"d","x":1.3,"y":33.2},{"s":"1E11","b":"d","x":1.4,"y":33.7},{"s":"1E11","b":"d","x":1.5,"y":34.1},{"s":"1E11","b":"d","x":1.6,"y":34.5},{"s":"1E11","b":"d","x":1.7,"y":34.8},{"s":"1E11","b":"d","x":1.8,"y":35.1},{"s":"1E11","b":"d","x":1.9,"y":35.3},{"s":"1E11","b":"d","x":2,"y":35.5},
{"s":"1E11","b":"d","x":2.5,"y":35.6},{"s":"1E11","b":"d","x":3,"y":37.0},{"s":"1E11","b":"d","x":3.5,"y":37.8},{"s":"1E11","b":"d","x":4,"y":38.4},{"s":"1E11","b":"d","x":4.5,"y":38.9},{"s":"1E11","b":"d","x":5,"y":39.2},{"s":"1E11","b":"d","x":5.5,"y":39.4},{"s":"1E11","b":"d","x":6,"y":39.5},{"s":"1E11","b":"d","x":6.5,"y":39.5},{"s":"1E11","b":"d","x":7,"y":39.4},{"s":"1E11","b":"d","x":7.5,"y":39.3},{"s":"1E11","b":"d","x":8,"y":39.1},{"s":"1E11","b":"d","x":8.5,"y":39.0},{"s":"1E11","b":"d","x":9,"y":38.8},{"s":"1E11","b":"d","x":9.5,"y":38.6},{"s":"1E11","b":"d","x":10,"y":38.4},
{"s":"1E12","b":"u","x":-10,"y":-27.0},{"s":"1E12","b":"u","x":-9.5,"y":-27.3},{"s":"1E12","b":"u","x":-9,"y":-27.5},{"s":"1E12","b":"u","x":-8.5,"y":-27.6},{"s":"1E12","b":"u","x":-8,"y":-27.7},{"s":"1E12","b":"u","x":-7.5,"y":-27.8},{"s":"1E12","b":"u","x":-7,"y":-27.8},{"s":"1E12","b":"u","x":-6.5,"y":-27.8},{"s":"1E12","b":"u","x":-6,"y":-27.8},{"s":"1E12","b":"u","x":-5.5,"y":-27.7},{"s":"1E12","b":"u","x":-5,"y":-27.7},{"s":"1E12","b":"u","x":-4.5,"y":-27.6},{"s":"1E12","b":"u","x":-4,"y":-27.4},{"s":"1E12","b":"u","x":-3.5,"y":-27.1},{"s":"1E12","b":"u","x":-3,"y":-26.6},{"s":"1E12","b":"u","x":-2.5,"y":-25.9},
{"s":"1E12","b":"u","x":-2,"y":-25.3},{"s":"1E12","b":"u","x":-1.9,"y":-25.2},{"s":"1E12","b":"u","x":-1.8,"y":-25.0},{"s":"1E12","b":"u","x":-1.7,"y":-24.7},{"s":"1E12","b":"u","x":-1.6,"y":-24.5},{"s":"1E12","b":"u","x":-1.5,"y":-24.2},{"s":"1E12","b":"u","x":-1.4,"y":-23.9},{"s":"1E12","b":"u","x":-1.3,"y":-23.5},{"s":"1E12","b":"u","x":-1.2,"y":-23.0},{"s":"1E12","b":"u","x":-1.1,"y":-22.5},{"s":"1E12","b":"u","x":-1,"y":-21.9},{"s":"1E12","b":"u","x":-0.9,"y":-21.2},{"s":"1E12","b":"u","x":-0.8,"y":-20.3},{"s":"1E12","b":"u","x":-0.7,"y":-19.4},{"s":"1E12","b":"u","x":-0.6,"y":-18.3},{"s":"1E12","b":"u","x":-0.5,"y":-17.0},{"s":"1E12","b":"u","x":-0.4,"y":-15.5},{"s":"1E12","b":"u","x":-0.3,"y":-13.8},{"s":"1E12","b":"u","x":-0.2,"y":-11.9},{"s":"1E12","b":"u","x":-0.1,"y":-9.8},{"s":"1E12","b":"u","x":0,"y":-7.5},{"s":"1E12","b":"u","x":0.1,"y":-5.1},{"s":"1E12","b":"u","x":0.2,"y":-2.6},{"s":"1E12","b":"u","x":0.3,"y":0},{"s":"1E12","b":"u","x":0.4,"y":2.6},{"s":"1E12","b":"u","x":0.5,"y":5.1},{"s":"1E12","b":"u","x":0.6,"y":7.5},{"s":"1E12","b":"u","x":0.7,"y":9.8},{"s":"1E12","b":"u","x":0.8,"y":11.9},{"s":"1E12","b":"u","x":0.9,"y":13.8},{"s":"1E12","b":"u","x":1,"y":15.5},{"s":"1E12","b":"u","x":1.1,"y":17.0},{"s":"1E12","b":"u","x":1.2,"y":18.3},{"s":"1E12","b":"u","x":1.3,"y":19.4},{"s":"1E12","b":"u","x":1.4,"y":20.3},{"s":"1E12","b":"u","x":1.5,"y":21.2},{"s":"1E12","b":"u","x":1.6,"y":21.9},{"s":"1E12","b":"u","x":1.7,"y":22.5},{"s":"1E12","b":"u","x":1.8,"y":23.0},{"s":"1E12","b":"u","x":1.9,"y":23.5},{"s":"1E12","b":"u","x":2,"y":23.9},
{"s":"1E12","b":"d","x":-2,"y":-23.9},{"s":"1E12","b":"d","x":-1.9,"y":-23.5},{"s":"1E12","b":"d","x":-1.8,"y":-23.0},{"s":"1E12","b":"d","x":-1.7,"y":-22.5},{"s":"1E12","b":"d","x":-1.6,"y":-21.9},{"s":"1E12","b":"d","x":-1.5,"y":-21.2},{"s":"1E12","b":"d","x":-1.4,"y":-20.3},{"s":"1E12","b":"d","x":-1.3,"y":-19.4},{"s":"1E12","b":"d","x":-1.2,"y":-18.3},{"s":"1E12","b":"d","x":-1.1,"y":-17.0},{"s":"1E12","b":"d","x":-1,"y":-15.5},{"s":"1E12","b":"d","x":-0.9,"y":-13.8},{"s":"1E12","b":"d","x":-0.8,"y":-11.9},{"s":"1E12","b":"d","x":-0.7,"y":-9.8},{"s":"1E12","b":"d","x":-0.6,"y":-7.5},{"s":"1E12","b":"d","x":-0.5,"y":-5.1},{"s":"1E12","b":"d","x":-0.4,"y":-2.6},{"s":"1E12","b":"d","x":-0.3,"y":0},{"s":"1E12","b":"d","x":-0.2,"y":2.6},{"s":"1E12","b":"d","x":-0.1,"y":5.1},{"s":"1E12","b":"d","x":0,"y":7.5},{"s":"1E12","b":"d","x":0.1,"y":9.8},{"s":"1E12","b":"d","x":0.2,"y":11.9},{"s":"1E12","b":"d","x":0.3,"y":13.8},{"s":"1E12","b":"d","x":0.4,"y":15.5},{"s":"1E12","b":"d","x":0.5,"y":17.0},{"s":"1E12","b":"d","x":0.6,"y":18.3},{"s":"1E12","b":"d","x":0.7,"y":19.4},{"s":"1E12","b":"d","x":0.8,"y":20.3},{"s":"1E12","b":"d","x":0.9,"y":21.2},{"s":"1E12","b":"d","x":1,"y":21.9},{"s":"1E12","b":"d","x":1.1,"y":22.5},{"s":"1E12","b":"d","x":1.2,"y":23.0},{"s":"1E12","b":"d","x":1.3,"y":23.5},{"s":"1E12","b":"d","x":1.4,"y":23.9},{"s":"1E12","b":"d","x":1.5,"y":24.2},{"s":"1E12","b":"d","x":1.6,"y":24.5},{"s":"1E12","b":"d","x":1.7,"y":24.7},{"s":"1E12","b":"d","x":1.8,"y":25.0},{"s":"1E12","b":"d","x":1.9,"y":25.2},{"s":"1E12","b":"d","x":2,"y":25.3},
{"s":"1E12","b":"d","x":2.5,"y":25.9},{"s":"1E12","b":"d","x":3,"y":26.6},{"s":"1E12","b":"d","x":3.5,"y":27.0},{"s":"1E12","b":"d","x":4,"y":27.3},{"s":"1E12","b":"d","x":4.5,"y":27.5},{"s":"1E12","b":"d","x":5,"y":27.6},{"s":"1E12","b":"d","x":5.5,"y":27.7},{"s":"1E12","b":"d","x":6,"y":27.7},{"s":"1E12","b":"d","x":6.5,"y":27.7},{"s":"1E12","b":"d","x":7,"y":27.7},{"s":"1E12","b":"d","x":7.5,"y":27.6},{"s":"1E12","b":"d","x":8,"y":27.6},{"s":"1E12","b":"d","x":8.5,"y":27.5},{"s":"1E12","b":"d","x":9,"y":27.4},{"s":"1E12","b":"d","x":9.5,"y":27.2},{"s":"1E12","b":"d","x":10,"y":27.0},
{"s":"1E13","b":"u","x":-10,"y":-59.8},{"s":"1E13","b":"u","x":-9.5,"y":-60.1},{"s":"1E13","b":"u","x":-9,"y":-60.4},{"s":"1E13","b":"u","x":-8.5,"y":-60.6},{"s":"1E13","b":"u","x":-8,"y":-60.8},{"s":"1E13","b":"u","x":-7.5,"y":-60.9},{"s":"1E13","b":"u","x":-7,"y":-61.0},{"s":"1E13","b":"u","x":-6.5,"y":-61.0},{"s":"1E13","b":"u","x":-6,"y":-61.0},{"s":"1E13","b":"u","x":-5.5,"y":-60.9},{"s":"1E13","b":"u","x":-5,"y":-60.8},{"s":"1E13","b":"u","x":-4.5,"y":-60.6},{"s":"1E13","b":"u","x":-4,"y":-60.2},{"s":"1E13","b":"u","x":-3.5,"y":-59.6},{"s":"1E13","b":"u","x":-3,"y":-58.3},{"s":"1E13","b":"u","x":-2.5,"y":-56.3},
{"s":"1E13","b":"u","x":-2,"y":-55.3},{"s":"1E13","b":"u","x":-1.9,"y":-55.0},{"s":"1E13","b":"u","x":-1.8,"y":-54.7},{"s":"1E13","b":"u","x":-1.7,"y":-54.4},{"s":"1E13","b":"u","x":-1.6,"y":-54.0},{"s":"1E13","b":"u","x":-1.5,"y":-53.6},{"s":"1E13","b":"u","x":-1.4,"y":-53.1},{"s":"1E13","b":"u","x":-1.3,"y":-52.5},{"s":"1E13","b":"u","x":-1.2,"y":-51.8},{"s":"1E13","b":"u","x":-1.1,"y":-50.9},{"s":"1E13","b":"u","x":-1,"y":-50.0},{"s":"1E13","b":"u","x":-0.9,"y":-48.8},{"s":"1E13","b":"u","x":-0.8,"y":-47.3},{"s":"1E13","b":"u","x":-0.7,"y":-45.6},{"s":"1E13","b":"u","x":-0.6,"y":-43.5},{"s":"1E13","b":"u","x":-0.5,"y":-41.0},{"s":"1E13","b":"u","x":-0.4,"y":-37.9},{"s":"1E13","b":"u","x":-0.3,"y":-34.3},{"s":"1E13","b":"u","x":-0.2,"y":-30.0},{"s":"1E13","b":"u","x":-0.1,"y":-25.1},{"s":"1E13","b":"u","x":0,"y":-19.5},{"s":"1E13","b":"u","x":0.1,"y":-13.4},{"s":"1E13","b":"u","x":0.2,"y":-6.8},{"s":"1E13","b":"u","x":0.3,"y":0},{"s":"1E13","b":"u","x":0.4,"y":6.8},{"s":"1E13","b":"u","x":0.5,"y":13.4},{"s":"1E13","b":"u","x":0.6,"y":19.5},{"s":"1E13","b":"u","x":0.7,"y":25.1},{"s":"1E13","b":"u","x":0.8,"y":30.0},{"s":"1E13","b":"u","x":0.9,"y":34.3},{"s":"1E13","b":"u","x":1,"y":37.9},{"s":"1E13","b":"u","x":1.1,"y":41.0},{"s":"1E13","b":"u","x":1.2,"y":43.5},{"s":"1E13","b":"u","x":1.3,"y":45.6},{"s":"1E13","b":"u","x":1.4,"y":47.3},{"s":"1E13","b":"u","x":1.5,"y":48.8},{"s":"1E13","b":"u","x":1.6,"y":50.0},{"s":"1E13","b":"u","x":1.7,"y":50.9},{"s":"1E13","b":"u","x":1.8,"y":51.8},{"s":"1E13","b":"u","x":1.9,"y":52.5},{"s":"1E13","b":"u","x":2,"y":53.1},
{"s":"1E13","b":"d","x":-2,"y":-53.1},{"s":"1E13","b":"d","x":-1.9,"y":-52.5},{"s":"1E13","b":"d","x":-1.8,"y":-51.8},{"s":"1E13","b":"d","x":-1.7,"y":-50.9},{"s":"1E13","b":"d","x":-1.6,"y":-50.0},{"s":"1E13","b":"d","x":-1.5,"y":-48.8},{"s":"1E13","b":"d","x":-1.4,"y":-47.3},{"s":"1E13","b":"d","x":-1.3,"y":-45.6},{"s":"1E13","b":"d","x":-1.2,"y":-43.5},{"s":"1E13","b":"d","x":-1.1,"y":-41.0},{"s":"1E13","b":"d","x":-1,"y":-37.9},{"s":"1E13","b":"d","x":-0.9,"y":-34.3},{"s":"1E13","b":"d","x":-0.8,"y":-30.0},{"s":"1E13","b":"d","x":-0.7,"y":-25.1},{"s":"1E13","b":"d","x":-0.6,"y":-19.5},{"s":"1E13","b":"d","x":-0.5,"y":-13.4},{"s":"1E13","b":"d","x":-0.4,"y":-6.8},{"s":"1E13","b":"d","x":-0.3,"y":0},{"s":"1E13","b":"d","x":-0.2,"y":6.8},{"s":"1E13","b":"d","x":-0.1,"y":13.4},{"s":"1E13","b":"d","x":0,"y":19.5},{"s":"1E13","b":"d","x":0.1,"y":25.1},{"s":"1E13","b":"d","x":0.2,"y":30.0},{"s":"1E13","b":"d","x":0.3,"y":34.3},{"s":"1E13","b":"d","x":0.4,"y":37.9},{"s":"1E13","b":"d","x":0.5,"y":41.0},{"s":"1E13","b":"d","x":0.6,"y":43.5},{"s":"1E13","b":"d","x":0.7,"y":45.6},{"s":"1E13","b":"d","x":0.8,"y":47.3},{"s":"1E13","b":"d","x":0.9,"y":48.8},{"s":"1E13","b":"d","x":1,"y":50.0},{"s":"1E13","b":"d","x":1.1,"y":50.9},{"s":"1E13","b":"d","x":1.2,"y":51.8},{"s":"1E13","b":"d","x":1.3,"y":52.5},{"s":"1E13","b":"d","x":1.4,"y":53.1},{"s":"1E13","b":"d","x":1.5,"y":53.6},{"s":"1E13","b":"d","x":1.6,"y":54.0},{"s":"1E13","b":"d","x":1.7,"y":54.4},{"s":"1E13","b":"d","x":1.8,"y":54.7},{"s":"1E13","b":"d","x":1.9,"y":55.0},{"s":"1E13","b":"d","x":2,"y":55.3},
{"s":"1E13","b":"d","x":2.5,"y":55.5},{"s":"1E13","b":"d","x":3,"y":57.6},{"s":"1E13","b":"d","x":3.5,"y":58.5},{"s":"1E13","b":"d","x":4,"y":59.3},{"s":"1E13","b":"d","x":4.5,"y":59.8},{"s":"1E13","b":"d","x":5,"y":60.1},{"s":"1E13","b":"d","x":5.5,"y":60.3},{"s":"1E13","b":"d","x":6,"y":60.4},{"s":"1E13","b":"d","x":6.5,"y":60.4},{"s":"1E13","b":"d","x":7,"y":60.3},{"s":"1E13","b":"d","x":7.5,"y":60.2},{"s":"1E13","b":"d","x":8,"y":60.1},{"s":"1E13","b":"d","x":8.5,"y":60.0},{"s":"1E13","b":"d","x":9,"y":59.8},{"s":"1E13","b":"d","x":9.5,"y":59.5},{"s":"1E13","b":"d","x":10,"y":59.1}
]
},
"vconcat":[
{"width":682,"height":550,"data":{"name":"a"},
"layer":[
{"mark":{"type":"line","strokeWidth":1.2,"clip":true},
"encoding":{
"x":{"field":"x","type":"quantitative","scale":{"domain":[-10,10],"nice":false,"zero":false},"axis":{"orient":"bottom","values":[-10,-7.5,-5,-2.5,0,2.5,5,7.5,10],"labelExpr":"datum.value % 5 === 0 ? '' + datum.value : ''","tickSize":{"condition":{"test":"datum.value % 5 === 0","value":9},"value":5},"title":"Magnetic Field (kOe)","labelFontSize":25,"labelFontWeight":"bold","titleFontSize":26,"titleFontWeight":"bold","labelFlush":false,"labelOverlap":false,"domainWidth":2.5,"tickWidth":2,"labelPadding":9,"titlePadding":22,"zindex":1}},
"y":{"field":"y","type":"quantitative","scale":{"domain":[-72,72],"nice":false,"zero":false},"axis":{"orient":"left","values":[-72,-67.5,-63,-58.5,-54,-49.5,-45,-40.5,-36,-31.5,-27,-22.5,-18,-13.5,-9,-4.5,0,4.5,9,13.5,18,22.5,27,31.5,36,40.5,45,49.5,54,58.5,63,67.5,72],"labelExpr":"datum.value % 9 === 0 ? '' + datum.value : ''","tickSize":{"condition":{"test":"datum.value % 9 === 0","value":9},"value":5},"title":"Moment (emu/cc)","labelFontSize":19,"titleFontSize":27,"titleFontWeight":"bold","labelFlush":false,"labelOverlap":false,"domainWidth":2.5,"tickWidth":2,"labelPadding":4,"titlePadding":20,"zindex":1}},
"stroke":{"field":"s","type":"nominal","sort":["Pristine","1E11","1E12","1E13"],"scale":{"range":["#000000","#ff0000","#0000ff","#008080"]},"legend":{"orient":"none","legendX":517,"legendY":414,"direction":"vertical","title":null,"symbolType":"stroke","symbolSize":3249,"symbolStrokeWidth":1.2,"labelFontSize":24,"labelOpacity":0,"labelExpr":"''","labelOffset":8,"clipHeight":24,"rowPadding":7.5,"padding":5}},
"detail":{"field":"b","type":"nominal"}}},
{"mark":{"type":"point","filled":true,"opacity":1,"size":225,"clip":true},
"encoding":{
"x":{"field":"x","type":"quantitative","scale":{"domain":[-10,10],"nice":false,"zero":false},"axis":{"orient":"top","values":[-10,-7.5,-5,-2.5,0,2.5,5,7.5,10],"labels":false,"tickSize":-5,"tickWidth":1.5,"domainWidth":1.5,"title":null,"zindex":1}},
"y":{"field":"y","type":"quantitative","scale":{"domain":[-72,72],"nice":false,"zero":false},"axis":{"orient":"right","labels":false,"ticks":false,"domainWidth":2,"title":null,"zindex":1}},
"color":{"field":"s","type":"nominal","scale":{"domain":["Pristine","1E11","1E12","1E13"],"range":["#000000","#ff0000","#0000ff","#008080"]},"legend":{"orient":"none","legendX":517,"legendY":414,"direction":"vertical","title":null,"symbolSize":280,"labelFontSize":24,"labelOffset":22,"symbolOffset":20,"clipHeight":24,"rowPadding":7.5,"padding":5,"strokeColor":"#333333"}},
"shape":{"field":"s","type":"nominal","scale":{"domain":["Pristine","1E11","1E12","1E13"],"range":["M-0.67,-0.67H0.67V0.67H-0.67Z","M-0.87,0A0.87,0.87,0,1,0,0.87,0A0.87,0.87,0,1,0,-0.87,0Z","M0,-0.85L1,0.85L-1,0.85Z","M0,0.85L1,-0.85L-1,-0.85Z"]},"legend":{"orient":"none","legendX":517,"legendY":414,"direction":"vertical","title":null,"symbolSize":280,"labelFontSize":24,"labelOffset":22,"symbolOffset":20,"clipHeight":24,"rowPadding":7.5,"padding":5,"strokeColor":"#333333"}}}},
{"data":{"values":[{}]},"mark":{"type":"text","text":"(a)","fontSize":52,"fontWeight":"bold","align":"left","baseline":"alphabetic","color":"#000000"},"encoding":{"x":{"datum":-9.59,"type":"quantitative","axis":null},"y":{"datum":58.4,"type":"quantitative","axis":null}}},
{"data":{"values":[{}]},"mark":{"type":"text","text":"T = 300 K","fontSize":24.5,"fontWeight":"bold","align":"center","baseline":"middle","color":"#000000"},"encoding":{"x":{"datum":-4.4,"type":"quantitative","axis":null},"y":{"datum":0,"type":"quantitative","axis":null}}},
{"data":{"values":[{}]},"mark":{"type":"text","text":"CTO film @ 0.1 mTorr","fontSize":25,"fontWeight":"bold","align":"center","baseline":"middle","color":"#000000"},"encoding":{"x":{"datum":5.37,"type":"quantitative","axis":null},"y":{"datum":-17.5,"type":"quantitative","axis":null}}}
]},
{"width":678,"height":545,"data":{"name":"b"},
"layer":[
{"mark":{"type":"line","strokeWidth":1.2,"clip":true},
"encoding":{
"x":{"field":"x","type":"quantitative","scale":{"domain":[-10,10],"nice":false,"zero":false},"axis":{"orient":"bottom","values":[-10,-7.5,-5,-2.5,0,2.5,5,7.5,10],"labelExpr":"datum.value % 5 === 0 ? '' + datum.value : ''","tickSize":{"condition":{"test":"datum.value % 5 === 0","value":9},"value":5},"title":"Magnetic Field (kOe)","labelFontSize":25,"labelFontWeight":"bold","titleFontSize":26,"titleFontWeight":"bold","labelFlush":false,"labelOverlap":false,"domainWidth":2.5,"tickWidth":2,"labelPadding":9,"titlePadding":22,"zindex":1}},
"y":{"field":"y","type":"quantitative","scale":{"domain":[-75,75],"nice":false,"zero":false},"axis":{"orient":"left","values":[-75,-70,-65,-60,-55,-50,-45,-40,-35,-30,-25,-20,-15,-10,-5,0,5,10,15,20,25,30,35,40,45,50,55,60,65,70,75],"labelExpr":"datum.value % 10 === 0 ? '' + datum.value : ''","tickSize":{"condition":{"test":"datum.value % 10 === 0","value":9},"value":5},"title":"Moment (emu/cc)","labelFontSize":19,"titleFontSize":27,"titleFontWeight":"bold","labelFlush":false,"labelOverlap":false,"domainWidth":2.5,"tickWidth":2,"labelPadding":4,"titlePadding":20,"zindex":1}},
"stroke":{"field":"s","type":"nominal","sort":["Pristine","1E11","1E12","1E13"],"scale":{"range":["#000000","#ff0000","#0000ff","#008080"]},"legend":{"orient":"none","legendX":511,"legendY":412,"direction":"vertical","title":null,"symbolType":"stroke","symbolSize":3249,"symbolStrokeWidth":1.2,"labelFontSize":24,"labelOpacity":0,"labelExpr":"''","labelOffset":8,"clipHeight":24,"rowPadding":7.5,"padding":5}},
"detail":{"field":"b","type":"nominal"}}},
{"mark":{"type":"point","filled":true,"opacity":1,"size":225,"clip":true},
"encoding":{
"x":{"field":"x","type":"quantitative","scale":{"domain":[-10,10],"nice":false,"zero":false},"axis":{"orient":"top","values":[-10,-7.5,-5,-2.5,0,2.5,5,7.5,10],"labels":false,"tickSize":-5,"tickWidth":1.5,"domainWidth":1.5,"title":null,"zindex":1}},
"y":{"field":"y","type":"quantitative","scale":{"domain":[-75,75],"nice":false,"zero":false},"axis":{"orient":"right","labels":false,"ticks":false,"domainWidth":2,"title":null,"zindex":1}},
"color":{"field":"s","type":"nominal","scale":{"domain":["Pristine","1E11","1E12","1E13"],"range":["#000000","#ff0000","#0000ff","#008080"]},"legend":{"orient":"none","legendX":511,"legendY":412,"direction":"vertical","title":null,"symbolSize":280,"labelFontSize":24,"labelOffset":22,"symbolOffset":20,"clipHeight":24,"rowPadding":7.5,"padding":5,"strokeColor":"#333333"}},
"shape":{"field":"s","type":"nominal","scale":{"domain":["Pristine","1E11","1E12","1E13"],"range":["M-0.67,-0.67H0.67V0.67H-0.67Z","M-0.87,0A0.87,0.87,0,1,0,0.87,0A0.87,0.87,0,1,0,-0.87,0Z","M0,-0.85L1,0.85L-1,0.85Z","M0,0.85L1,-0.85L-1,-0.85Z"]},"legend":{"orient":"none","legendX":511,"legendY":412,"direction":"vertical","title":null,"symbolSize":280,"labelFontSize":24,"labelOffset":22,"symbolOffset":20,"clipHeight":24,"rowPadding":7.5,"padding":5,"strokeColor":"#333333"}}}},
{"data":{"values":[{}]},"mark":{"type":"text","text":"(b)","fontSize":52,"fontWeight":"bold","align":"left","baseline":"alphabetic","color":"#000000"},"encoding":{"x":{"datum":-9.65,"type":"quantitative","axis":null},"y":{"datum":60.4,"type":"quantitative","axis":null}}},
{"data":{"values":[{}]},"mark":{"type":"text","text":"T = 5 K","fontSize":24.5,"fontWeight":"bold","align":"center","baseline":"middle","color":"#000000"},"encoding":{"x":{"datum":-5.04,"type":"quantitative","axis":null},"y":{"datum":0.2,"type":"quantitative","axis":null}}},
{"data":{"values":[{}]},"mark":{"type":"text","text":"CTO @ 0.1 mTorr","fontSize":25,"fontWeight":"bold","align":"center","baseline":"middle","color":"#000000"},"encoding":{"x":{"datum":5.83,"type":"quantitative","axis":null},"y":{"datum":-16.5,"type":"quantitative","axis":null}}}
]}
]
}
